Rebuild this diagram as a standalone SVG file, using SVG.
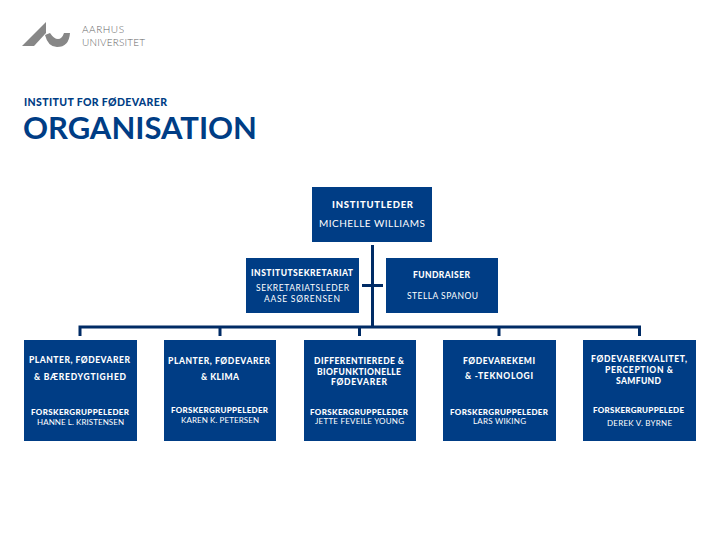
<svg xmlns="http://www.w3.org/2000/svg" width="720" height="540" viewBox="0 0 720 540">
<style>
text{font-family:"Lato","Liberation Sans",sans-serif;text-anchor:start}
.box{fill:#003D85}
.h{fill:#fff;font-weight:900;font-size:8.500px}
.n{fill:#fff;font-size:8.500px}
.s{font-size:8px}
.c{fill:none;stroke:#002B65;stroke-width:3}
.a{fill:#666;font-size:10px;font-weight:300}
.b{fill:#003D85}
</style>
<rect width="720" height="540" fill="#fff"/>
<g id="logo" fill="#878787"><path d="M22 46L46 22V33L34 46Z"/><path d="M45 35L50 33Q54 39 58 39Q62 39 64 33H70Q69 47 57 47Q48 47 45 35Z"/></g>
<g id="university"><text class="a" x="82" y="33" textLength="42">AARHUS</text><text class="a" x="82" y="46" textLength="63">UNIVERSITET</text></g>
<g id="heading"><text class="b" x="24" y="105.500" textLength="143" style="font-weight:900;font-size:10.500px">INSTITUT FOR FØDEVARER</text><text class="b" x="23" y="139" textLength="234" style="font-weight:700;font-size:31px">ORGANISATION</text></g>
<g id="connectors" class="c"><path d="M372.500 245V326M362 285.500H383M80 336V327H639.500V336M220 327V336M359.500 327V336M499 327V336"/></g>
<g id="leader"><rect class="box" x="312" y="187" width="120" height="55"/><text class="h" x="332" y="208" textLength="81" style="font-size:9.500px">INSTITUTLEDER</text><text class="n" x="319" y="227" textLength="106" style="font-size:10px">MICHELLE WILLIAMS</text></g>
<g id="secretariat"><rect class="box" x="246" y="258" width="113" height="55"/><text class="h" x="251" y="276" textLength="102">INSTITUTSEKRETARIAT</text><text class="n" x="256" y="291" textLength="93">SEKRETARIATSLEDER</text><text class="n" x="264" y="302" textLength="76">AASE SØRENSEN</text></g>
<g id="fundraiser"><rect class="box" x="386" y="258" width="112" height="55"/><text class="h" x="413" y="278" textLength="57">FUNDRAISER</text><text class="n" x="407" y="299" textLength="71">STELLA SPANOU</text></g>
<g id="group1"><rect class="box" x="24" y="340" width="113" height="101"/><text class="h" x="29" y="363" textLength="101">PLANTER, FØDEVARER</text><text class="h" x="34" y="380" textLength="92">&amp; BÆREDYGTIGHED</text><text class="h s" x="31" y="415" textLength="98">FORSKERGRUPPELEDER</text><text class="n s" x="37" y="425" textLength="87">HANNE L. KRISTENSEN</text></g>
<g id="group2"><rect class="box" x="164" y="340" width="112" height="101"/><text class="h" x="168" y="364" textLength="102">PLANTER, FØDEVARER</text><text class="h" x="201" y="380" textLength="38">&amp; KLIMA</text><text class="h s" x="171" y="413" textLength="97">FORSKERGRUPPELEDER</text><text class="n s" x="181" y="423" textLength="78">KAREN K. PETERSEN</text></g>
<g id="group3"><rect class="box" x="304" y="340" width="112" height="101"/><text class="h" x="314" y="364" textLength="90">DIFFERENTIEREDE &amp;</text><text class="h" x="317" y="375" textLength="84">BIOFUNKTIONELLE</text><text class="h" x="331" y="385" textLength="56">FØDEVARER</text><text class="h s" x="310" y="415" textLength="98">FORSKERGRUPPELEDER</text><text class="n s" x="315" y="424" textLength="89">JETTE FEVEILE YOUNG</text></g>
<g id="group4"><rect class="box" x="443" y="340" width="113" height="101"/><text class="h" x="463" y="364" textLength="72">FØDEVAREKEMI</text><text class="h" x="465" y="379" textLength="68">&amp; -TEKNOLOGI</text><text class="h s" x="450" y="415" textLength="98">FORSKERGRUPPELEDER</text><text class="n s" x="473" y="424" textLength="53">LARS WIKING</text></g>
<g id="group5"><rect class="box" x="583" y="340" width="113" height="101"/><text class="h" x="591" y="362" textLength="96">FØDEVAREKVALITET,</text><text class="h" x="605" y="373" textLength="68">PERCEPTION &amp;</text><text class="h" x="616" y="384" textLength="45">SAMFUND</text><text class="h s" x="593" y="413" textLength="91">FORSKERGRUPPELEDE</text><text class="n s" x="607" y="426" textLength="65">DEREK V. BYRNE</text></g>
</svg>
